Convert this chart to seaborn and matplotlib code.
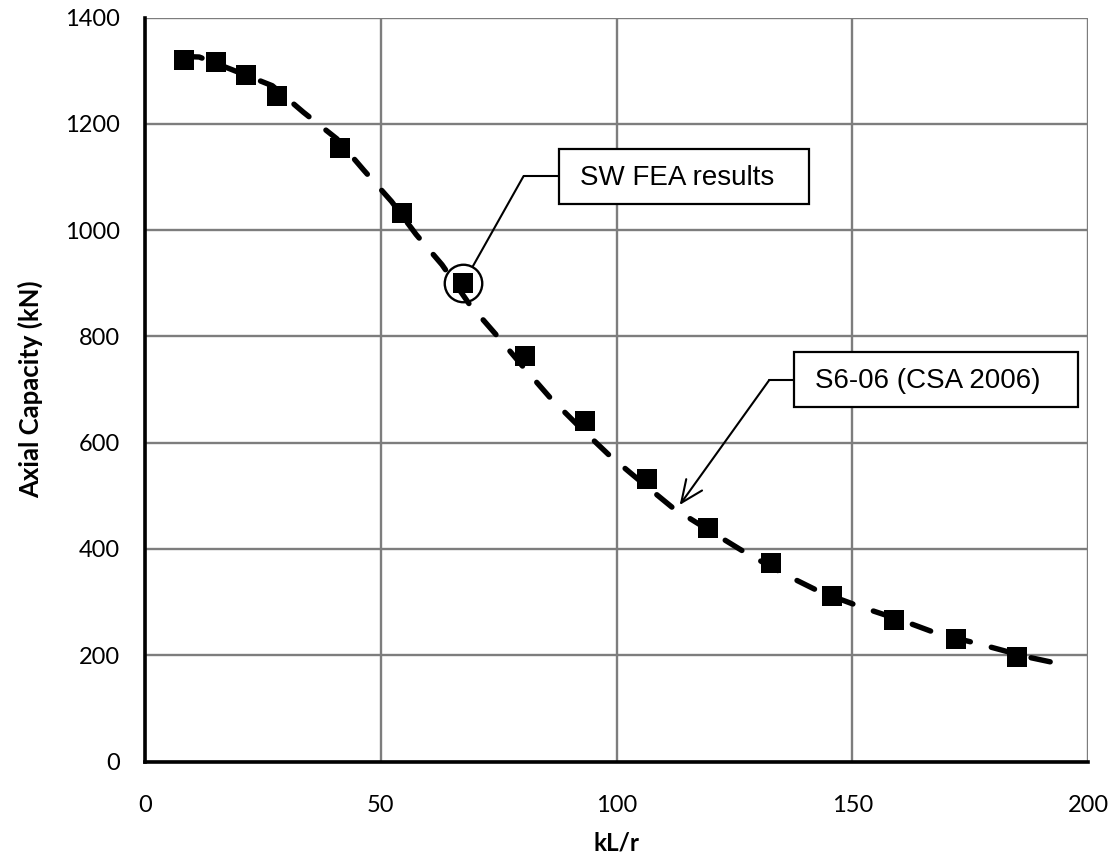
import numpy as np
import pandas as pd
import seaborn as sns
from matplotlib import pyplot as plt
from matplotlib.patches import Rectangle

# SW FEA results (squares)
fea_klr = [8.3, 15.0, 21.5, 28.0, 41.4, 54.5, 67.5, 80.5, 93.3, 106.4,
           119.5, 132.8, 145.8, 158.9, 171.9, 184.9]
fea_cap = [1320, 1316, 1293, 1253, 1154, 1032, 900, 763, 640, 531,
           440, 373, 312, 266, 230, 197]

# S6-06 (CSA 2006) curve (dashed)
csa_klr = [8, 11.5, 18.5, 27, 33.6, 40.7, 46.4, 52.3, 57.5, 63, 68.7, 74.3,
           80, 85.9, 91.9, 98.4, 105, 112, 120, 127, 135.5, 143, 151.5,
           161, 168, 177, 187, 196]
csa_cap = [1327, 1326, 1302, 1272, 1222, 1172, 1113, 1054, 992, 935, 862, 805,
           745, 685, 632, 577, 528, 477, 433, 395, 353, 320, 292,
           264, 241, 221, 197, 180]

x_ticks = [0, 50, 100, 150, 200]
y_ticks = [0, 200, 400, 600, 800, 1000, 1200, 1400]

fea = pd.DataFrame({"klr": fea_klr, "cap": fea_cap})
csa = pd.DataFrame({"klr": csa_klr, "cap": csa_cap})

sns.set_style("white")
plt.rcParams["font.family"] = ["Lato", "DejaVu Sans"]
for key in ["text.color", "axes.labelcolor", "xtick.color", "ytick.color"]:
    plt.rcParams[key] = "black"

fig = plt.figure(figsize=(11.19, 8.6), dpi=100)
ax = fig.add_axes([145 / 1119, 1 - 761.5 / 860, 943 / 1119, 743.8 / 860])

sns.lineplot(csa, x="klr", y="cap", ax=ax, color="black", linewidth=3.9,
             linestyle=(0, (3.6, 4.0)), dash_capstyle="round", zorder=3)
sns.scatterplot(fea, x="klr", y="cap", ax=ax, marker="s", s=200,
                color="black", edgecolor="black", linewidth=0, zorder=4)

# circle on the highlighted FEA point
ax.plot(fea_klr[6], fea_cap[6], marker="o", markersize=27, mfc="none",
        mec="black", mew=1.7, zorder=5)

ax.set_xlim(0, 200)
ax.set_ylim(0, 1400)
ax.set_xticks(x_ticks)
ax.set_yticks(y_ticks)
ax.grid(True, color="#7d7d7d", linewidth=1.7)
ax.set_axisbelow(True)

for side in ["top", "right"]:
    ax.spines[side].set_visible(False)
for side in ["left", "bottom"]:
    ax.spines[side].set_color("black")
    ax.spines[side].set_linewidth(2.6)
    ax.spines[side].set_zorder(6)

ax.tick_params(axis="x", direction="out", length=7, width=2, color="black",
               labelsize=17, pad=17)
ax.tick_params(axis="y", direction="out", length=6, width=2, color="black",
               labelsize=17, pad=12)

ax.set_xlabel("kL/r", fontsize=17.5, fontweight="bold", labelpad=11)
ax.set_ylabel("Axial Capacity (kN)", fontsize=18.5, fontweight="bold", labelpad=16)

# callout boxes
box_kw = dict(facecolor="white", edgecolor="black", linewidth=1.6, zorder=7)
ax.add_patch(Rectangle((87.9, 1049), 53, 103, **box_kw))
ax.text(92.3, 1098, "SW FEA results", fontsize=20, family="Liberation Sans",
        ha="left", va="center", zorder=8)
ax.plot([87.9, 80.3], [1102, 1102], color="black", lw=1.5, zorder=6)
ax.annotate("", xy=(fea_klr[6], fea_cap[6]), xytext=(80.3, 1102),
            arrowprops=dict(arrowstyle="-", color="black", lw=1.5,
                            shrinkA=0, shrinkB=13.7), zorder=6)

ax.add_patch(Rectangle((137.7, 667.8), 60.1, 103.5, **box_kw))
ax.text(142.0, 716, "S6-06 (CSA 2006)", fontsize=20, family="Liberation Sans",
        ha="left", va="center", zorder=8)
ax.plot([137.7, 132.4], [718, 718], color="black", lw=1.5, zorder=6)
ax.annotate("", xy=(113.4, 482.8), xytext=(132.4, 718),
            arrowprops=dict(arrowstyle="->,head_length=0.8,head_width=0.35",
                            color="black", lw=1.5, shrinkA=0, shrinkB=0,
                            mutation_scale=20), zorder=6)

fig.savefig("out.png", dpi=100)
